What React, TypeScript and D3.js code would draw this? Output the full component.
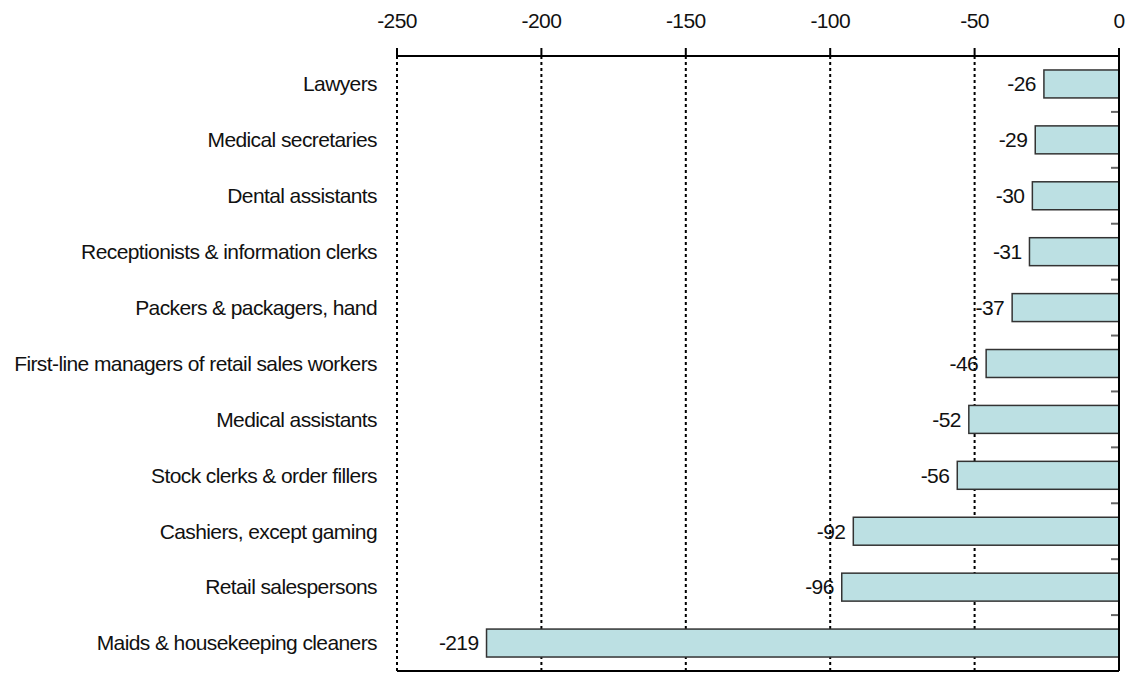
import React from "react";
import * as d3 from "d3";

const occupations: string[] = [
  "Lawyers",
  "Medical secretaries",
  "Dental assistants",
  "Receptionists & information clerks",
  "Packers & packagers, hand",
  "First-line managers of retail sales workers",
  "Medical assistants",
  "Stock clerks & order fillers",
  "Cashiers, except gaming",
  "Retail salespersons",
  "Maids & housekeeping cleaners",
];

const changes: number[] = [-26, -29, -30, -31, -37, -46, -52, -56, -92, -96, -219];

const xTicks: number[] = [-250, -200, -150, -100, -50, 0];

const W = 1136;
const H = 678;
const left = 397;
const right = 1119;
const top = 56;
const bottom = 671;
const FONT = "'Liberation Sans', Arial, sans-serif";
const FS = 21;
const LS = -0.6;

export default function App() {
  const x = d3.scaleLinear().domain([-250, 0]).range([left, right]);
  const y = d3
    .scaleBand<string>()
    .domain(occupations)
    .range([top, bottom])
    .paddingInner(0.5)
    .paddingOuter(0.25);
  const step = y.step();
  const boundaries = d3.range(1, occupations.length).map((i) => top + step * i);

  return (
    <svg
      width={W}
      height={H}
      style={{ position: "absolute", left: 0, top: 0, background: "#fff" }}
      fontFamily={FONT}
    >
      {/* dotted vertical gridlines */}
      {xTicks
        .filter((t) => t !== 0)
        .map((t) => (
          <line
            key={"g" + t}
            x1={x(t)}
            x2={x(t)}
            y1={top}
            y2={bottom}
            stroke="#000"
            strokeWidth={2}
            strokeDasharray="3,3"
          />
        ))}

      {/* bars */}
      {occupations.map((o, i) => {
        const v = changes[i];
        const y0 = y(o)!;
        return (
          <g key={o}>
            <rect
              x={x(v)}
              y={y0}
              width={x(0) - x(v)}
              height={y.bandwidth()}
              fill="#bce0e3"
              stroke="#333"
              strokeWidth={1.5}
            />
            <text
              x={x(v) - 8}
              y={y0 + y.bandwidth() / 2}
              dy="0.35em"
              textAnchor="end"
              fontSize={FS}
              letterSpacing={LS}
              fill="#111"
            >
              {v}
            </text>
            <text
              x={377}
              y={y0 + y.bandwidth() / 2}
              dy="0.35em"
              textAnchor="end"
              fontSize={FS}
              letterSpacing={LS}
              fill="#111"
            >
              {o}
            </text>
          </g>
        );
      })}

      {/* category boundary ticks on the zero axis */}
      {boundaries.map((b, i) => (
        <line key={"b" + i} x1={right - 8} x2={right} y1={b} y2={b} stroke="#666" strokeWidth={2} />
      ))}

      {/* top axis */}
      <line x1={left} x2={right} y1={top} y2={top} stroke="#000" strokeWidth={2} />
      {xTicks.map((t) => (
        <g key={"t" + t}>
          <line x1={x(t)} x2={x(t)} y1={top - 8} y2={top} stroke="#000" strokeWidth={2} />
          <text x={x(t)} y={28} textAnchor="middle" fontSize={FS} letterSpacing={LS} fill="#111">
            {t}
          </text>
        </g>
      ))}

      {/* zero line and bottom border */}
      <line x1={right} x2={right} y1={top - 8} y2={bottom} stroke="#000" strokeWidth={2} />
      <line x1={left} x2={right} y1={bottom} y2={bottom} stroke="#000" strokeWidth={2} />
    </svg>
  );
}
